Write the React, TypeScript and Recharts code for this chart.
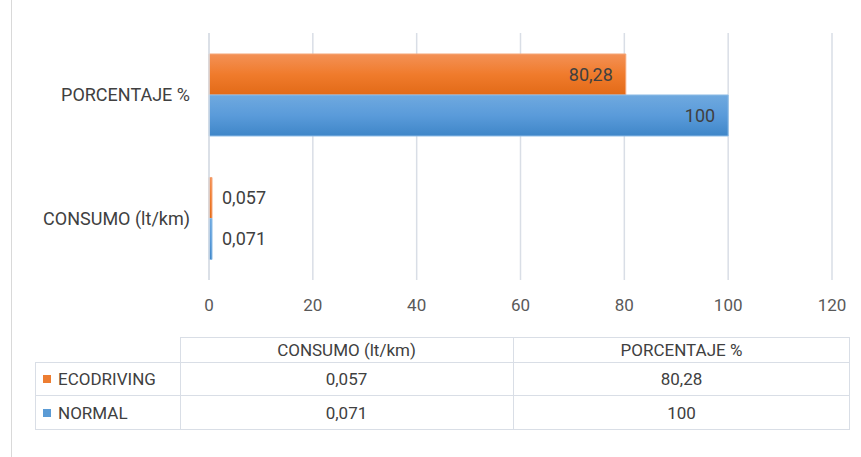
import React from "react";
import { BarChart, Bar, XAxis, YAxis, CartesianGrid, LabelList } from "recharts";

const categories = ["PORCENTAJE %", "CONSUMO (lt/km)"];
const ecodriving = [80.28, 0.057];
const normal = [100, 0.071];
const xTicks = [0, 20, 40, 60, 80, 100, 120];

const tableColumns = ["CONSUMO (lt/km)", "PORCENTAJE %"];
const tableEco = ["0,057", "80,28"];
const tableNormal = ["0,071", "100"];

const data = categories.map((c, i) => ({ name: c, eco: ecodriving[i], normal: normal[i] }));

const FONT = "Roboto, sans-serif";
const TEXT = "#404040";
const GRID = "#D9DEE6";

const fmt = (v: number) => String(v).replace(".", ",");

const renderLabel = (props: any) => {
  const { x, y, width, height, value } = props;
  const v = Number(value);
  const inside = v >= 10;
  const tx = inside ? x + width - 13 : x + width + 10;
  return (
    <text
      x={tx}
      y={y + height / 2}
      dy="0.35em"
      textAnchor={inside ? "end" : "start"}
      fill={TEXT}
      fontSize={18}
      fontFamily={FONT}
    >
      {fmt(v)}
    </text>
  );
};

export default function App() {
  const cellStyle: React.CSSProperties = {
    position: "absolute",
    boxSizing: "border-box",
    display: "flex",
    alignItems: "center",
    justifyContent: "center",
    fontFamily: FONT,
    fontSize: 17,
    color: TEXT,
  };
  const colX = [180, 513, 850];
  const rowY = [337, 362, 395, 430];
  const rows = [
    { label: "ECODRIVING", color: "#ED7D31", vals: tableEco },
    { label: "NORMAL", color: "#5B9BD5", vals: tableNormal },
  ];
  return (
    <div style={{ position: "absolute", left: 0, top: 0, width: 861, height: 457, background: "#fff", overflow: "hidden" }}>
      <div style={{ position: "absolute", left: 11, top: 0, width: 1, height: 457, background: "#D9D9D9" }} />
      <div style={{ position: "absolute", left: 0, top: 0 }}>
        <BarChart
          width={861}
          height={457}
          data={data}
          layout="vertical"
          margin={{ top: 33, right: 29, bottom: 147, left: 9 }}
          barCategoryGap="17%"
          barGap={0}
        >
          <defs>
            <linearGradient id="gOrange" x1="0" y1="0" x2="0" y2="1">
              <stop offset="0%" stopColor="#F39156" />
              <stop offset="50%" stopColor="#F07B2C" />
              <stop offset="100%" stopColor="#E26A17" />
            </linearGradient>
            <linearGradient id="gBlue" x1="0" y1="0" x2="0" y2="1">
              <stop offset="0%" stopColor="#6FA9DF" />
              <stop offset="50%" stopColor="#5A9BDA" />
              <stop offset="100%" stopColor="#3F86C8" />
            </linearGradient>
          </defs>
          <CartesianGrid horizontal={false} vertical stroke={GRID} strokeWidth={1.5} />
          <XAxis
            type="number"
            domain={[0, 120]}
            ticks={xTicks}
            axisLine={false}
            tickLine={false}
            tickSize={0}
            tickMargin={19}
            height={30}
            tick={{ fill: "#595959", fontSize: 17, fontFamily: FONT }}
          />
          <YAxis
            type="category"
            dataKey="name"
            width={200}
            axisLine={{ stroke: GRID, strokeWidth: 1.5 }}
            tickLine={false}
            tickSize={0}
            tickMargin={19}
            tick={{ fill: TEXT, fontSize: 18, fontFamily: FONT }}
          />
          <Bar dataKey="eco" fill="url(#gOrange)" stroke="#F5A77A" strokeWidth={1} minPointSize={3} isAnimationActive={false}>
            <LabelList dataKey="eco" content={renderLabel} />
          </Bar>
          <Bar dataKey="normal" fill="url(#gBlue)" stroke="#8CBCE6" strokeWidth={1} minPointSize={3} isAnimationActive={false}>
            <LabelList dataKey="normal" content={renderLabel} />
          </Bar>
        </BarChart>
      </div>
      {/* data table */}
      <div style={{ position: "absolute", left: colX[0], top: rowY[0], width: colX[2] - colX[0], height: rowY[1] - rowY[0], border: `1px solid ${GRID}`, borderBottom: "none", boxSizing: "border-box" }} />
      <div style={{ position: "absolute", left: 35, top: rowY[1], width: colX[2] - 35, height: rowY[3] - rowY[1], border: `1px solid ${GRID}`, boxSizing: "border-box" }} />
      <div style={{ position: "absolute", left: 35, top: rowY[2], width: colX[2] - 35, height: 1, background: GRID }} />
      <div style={{ position: "absolute", left: 35, top: rowY[1], width: colX[2] - 35, height: 1, background: GRID }} />
      <div style={{ position: "absolute", left: colX[0], top: rowY[1], width: 1, height: rowY[3] - rowY[1], background: GRID }} />
      <div style={{ position: "absolute", left: colX[1], top: rowY[0], width: 1, height: rowY[3] - rowY[0], background: GRID }} />
      {tableColumns.map((c, i) => (
        <div key={c} style={{ ...cellStyle, left: colX[i], top: rowY[0], width: colX[i + 1] - colX[i], height: rowY[1] - rowY[0] }}>
          {c}
        </div>
      ))}
      {rows.map((r, ri) => (
        <React.Fragment key={r.label}>
          <div style={{ ...cellStyle, justifyContent: "flex-start", left: 43, top: rowY[ri + 1], width: colX[0] - 43, height: rowY[ri + 2] - rowY[ri + 1] }}>
            <span style={{ display: "inline-block", width: 8, height: 8, background: r.color, marginRight: 7 }} />
            {r.label}
          </div>
          {r.vals.map((v, ci) => (
            <div key={ci} style={{ ...cellStyle, left: colX[ci], top: rowY[ri + 1], width: colX[ci + 1] - colX[ci], height: rowY[ri + 2] - rowY[ri + 1] }}>
              {v}
            </div>
          ))}
        </React.Fragment>
      ))}
    </div>
  );
}
